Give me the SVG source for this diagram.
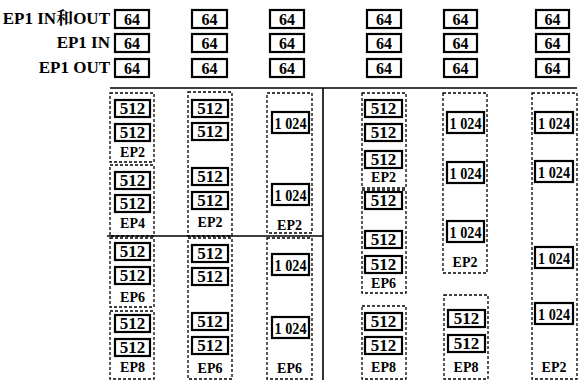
<svg xmlns="http://www.w3.org/2000/svg" width="583" height="380" viewBox="0 0 583 380">
<style>
.b{fill:#fff;stroke:#000;stroke-width:2.2}
.d{fill:none;stroke:#000;stroke-width:1.3;stroke-dasharray:3 2}
.l{stroke:#000;stroke-width:1.6;fill:none}
.n{font-size:17px;text-anchor:middle}
.s{font-size:16px;text-anchor:middle}
.k{font-size:17px;text-anchor:middle}
.e{font-size:14px;text-anchor:middle}
.h{font-size:17px;text-anchor:end}
</style>
<rect width="583" height="380" fill="#fff"/>
<g font-family="Liberation Serif, serif" font-weight="bold" fill="#000">
<g id="labels">
<text class="h" x="110" y="24" font-family="Liberation Serif, Noto Serif CJK SC, serif">EP1 IN和OUT</text>
<text class="h" x="110" y="48">EP1 IN</text>
<text class="h" x="110" y="73">EP1 OUT</text>
</g>
<g id="ep1-64">
<g id="r1c1"><rect class="b" x="115" y="10" width="34" height="18"/><text class="s" x="132" y="24.5">64</text></g>
<g id="r1c2"><rect class="b" x="192" y="10" width="35" height="18"/><text class="s" x="209.5" y="24.5">64</text></g>
<g id="r1c3"><rect class="b" x="270" y="10" width="34" height="18"/><text class="s" x="287" y="24.5">64</text></g>
<g id="r1c4"><rect class="b" x="367" y="10" width="34" height="18"/><text class="s" x="384" y="24.5">64</text></g>
<g id="r1c5"><rect class="b" x="444" y="10" width="33" height="18"/><text class="s" x="460.5" y="24.5">64</text></g>
<g id="r1c6"><rect class="b" x="536" y="10" width="33" height="18"/><text class="s" x="552.5" y="24.5">64</text></g>
<g id="r2c1"><rect class="b" x="115" y="34" width="34" height="18"/><text class="s" x="132" y="48.5">64</text></g>
<g id="r2c2"><rect class="b" x="192" y="34" width="35" height="18"/><text class="s" x="209.5" y="48.5">64</text></g>
<g id="r2c3"><rect class="b" x="270" y="34" width="34" height="18"/><text class="s" x="287" y="48.5">64</text></g>
<g id="r2c4"><rect class="b" x="367" y="34" width="34" height="18"/><text class="s" x="384" y="48.5">64</text></g>
<g id="r2c5"><rect class="b" x="444" y="34" width="33" height="18"/><text class="s" x="460.5" y="48.5">64</text></g>
<g id="r2c6"><rect class="b" x="536" y="34" width="33" height="18"/><text class="s" x="552.5" y="48.5">64</text></g>
<g id="r3c1"><rect class="b" x="115" y="59" width="34" height="18"/><text class="s" x="132" y="73.5">64</text></g>
<g id="r3c2"><rect class="b" x="192" y="59" width="35" height="18"/><text class="s" x="209.5" y="73.5">64</text></g>
<g id="r3c3"><rect class="b" x="270" y="59" width="34" height="18"/><text class="s" x="287" y="73.5">64</text></g>
<g id="r3c4"><rect class="b" x="367" y="59" width="34" height="18"/><text class="s" x="384" y="73.5">64</text></g>
<g id="r3c5"><rect class="b" x="444" y="59" width="33" height="18"/><text class="s" x="460.5" y="73.5">64</text></g>
<g id="r3c6"><rect class="b" x="536" y="59" width="33" height="18"/><text class="s" x="552.5" y="73.5">64</text></g>
</g>
<g id="connectors">
<line class="l" x1="110" y1="88" x2="577" y2="88"/>
<line class="l" x1="107" y1="236" x2="323" y2="236"/>
<line class="l" x1="323" y1="88" x2="323" y2="380"/>
</g>
<g id="A1"><rect class="d" x="110" y="93" width="44" height="69"/>
<rect class="b" x="115" y="100" width="35" height="17"/><text class="n" x="132.5" y="114">512</text>
<rect class="b" x="115" y="124" width="35" height="17"/><text class="n" x="132.5" y="138">512</text>
<text class="e" x="132.5" y="157">EP2</text></g>
<g id="A2"><rect class="d" x="110" y="165" width="44" height="71"/>
<rect class="b" x="115" y="172" width="35" height="17"/><text class="n" x="132.5" y="186">512</text>
<rect class="b" x="115" y="195" width="35" height="17"/><text class="n" x="132.5" y="209">512</text>
<text class="e" x="132.5" y="228">EP4</text></g>
<g id="A3"><rect class="d" x="110" y="238" width="44" height="69"/>
<rect class="b" x="115" y="243" width="35" height="17"/><text class="n" x="132.5" y="257">512</text>
<rect class="b" x="115" y="267" width="35" height="17"/><text class="n" x="132.5" y="281">512</text>
<text class="e" x="132.5" y="302">EP6</text></g>
<g id="A4"><rect class="d" x="110" y="311" width="44" height="68"/>
<rect class="b" x="115" y="315" width="35" height="17"/><text class="n" x="132.5" y="329">512</text>
<rect class="b" x="115" y="339" width="35" height="17"/><text class="n" x="132.5" y="353">512</text>
<text class="e" x="132.5" y="372">EP8</text></g>
<g id="B1"><rect class="d" x="188" y="92" width="44" height="144"/>
<rect class="b" x="192" y="100" width="36" height="17"/><text class="n" x="210" y="114">512</text>
<rect class="b" x="192" y="123" width="36" height="17"/><text class="n" x="210" y="137">512</text>
<rect class="b" x="192" y="168" width="36" height="17"/><text class="n" x="210" y="182">512</text>
<rect class="b" x="192" y="192" width="36" height="17"/><text class="n" x="210" y="206">512</text>
<text class="e" x="210" y="227">EP2</text></g>
<g id="B2"><rect class="d" x="188" y="238" width="44" height="141"/>
<rect class="b" x="192" y="245" width="36" height="17"/><text class="n" x="210" y="259">512</text>
<rect class="b" x="192" y="268" width="36" height="17"/><text class="n" x="210" y="282">512</text>
<rect class="b" x="192" y="313" width="36" height="17"/><text class="n" x="210" y="327">512</text>
<rect class="b" x="192" y="337" width="36" height="17"/><text class="n" x="210" y="351">512</text>
<text class="e" x="210" y="373">EP6</text></g>
<g id="C1"><rect class="d" x="267" y="93" width="45" height="140"/>
<rect class="b" x="272" y="112" width="37" height="21"/><text class="k" x="290.5" y="128.5" textLength="32" lengthAdjust="spacingAndGlyphs">1 024</text>
<rect class="b" x="272" y="184" width="37" height="21"/><text class="k" x="290.5" y="200.5" textLength="32" lengthAdjust="spacingAndGlyphs">1 024</text>
<text class="e" x="289.5" y="230">EP2</text></g>
<g id="C2"><rect class="d" x="267" y="238" width="45" height="141"/>
<rect class="b" x="272" y="254" width="37" height="21"/><text class="k" x="290.5" y="270.5" textLength="32" lengthAdjust="spacingAndGlyphs">1 024</text>
<rect class="b" x="272" y="317" width="37" height="21"/><text class="k" x="290.5" y="333.5" textLength="32" lengthAdjust="spacingAndGlyphs">1 024</text>
<text class="e" x="289.5" y="373">EP6</text></g>
<g id="D1"><rect class="d" x="362" y="93" width="44" height="95"/>
<rect class="b" x="365" y="100" width="37" height="17"/><text class="n" x="383.5" y="114">512</text>
<rect class="b" x="365" y="124" width="37" height="17"/><text class="n" x="383.5" y="138">512</text>
<rect class="b" x="365" y="151" width="37" height="17"/><text class="n" x="383.5" y="165">512</text>
<text class="e" x="383.5" y="182">EP2</text></g>
<g id="D2"><rect class="d" x="362" y="190" width="44" height="103"/>
<rect class="b" x="365" y="192" width="37" height="17"/><text class="n" x="383.5" y="206">512</text>
<rect class="b" x="365" y="231" width="37" height="17"/><text class="n" x="383.5" y="245">512</text>
<rect class="b" x="365" y="256" width="37" height="17"/><text class="n" x="383.5" y="270">512</text>
<text class="e" x="383.5" y="288">EP6</text></g>
<g id="D3"><rect class="d" x="362" y="306" width="44" height="73"/>
<rect class="b" x="365" y="313" width="37" height="17"/><text class="n" x="383.5" y="327">512</text>
<rect class="b" x="365" y="337" width="37" height="17"/><text class="n" x="383.5" y="351">512</text>
<text class="e" x="383.5" y="372">EP8</text></g>
<g id="E1"><rect class="d" x="443" y="93" width="44" height="180"/>
<rect class="b" x="447" y="112" width="37" height="21"/><text class="k" x="465.5" y="128.5" textLength="32" lengthAdjust="spacingAndGlyphs">1 024</text>
<rect class="b" x="447" y="162" width="37" height="21"/><text class="k" x="465.5" y="178.5" textLength="32" lengthAdjust="spacingAndGlyphs">1 024</text>
<rect class="b" x="447" y="221" width="37" height="21"/><text class="k" x="465.5" y="237.5" textLength="32" lengthAdjust="spacingAndGlyphs">1 024</text>
<text class="e" x="465" y="267">EP2</text></g>
<g id="E2"><rect class="d" x="444" y="295" width="44" height="84"/>
<rect class="b" x="448" y="310" width="37" height="17"/><text class="n" x="466.5" y="324">512</text>
<rect class="b" x="448" y="335" width="37" height="17"/><text class="n" x="466.5" y="349">512</text>
<text class="e" x="466" y="372">EP8</text></g>
<g id="F1"><rect class="d" x="532" y="93" width="45" height="286"/>
<rect class="b" x="535" y="112" width="38" height="21"/><text class="k" x="554" y="128.5" textLength="32" lengthAdjust="spacingAndGlyphs">1 024</text>
<rect class="b" x="535" y="161" width="38" height="21"/><text class="k" x="554" y="177.5" textLength="32" lengthAdjust="spacingAndGlyphs">1 024</text>
<rect class="b" x="535" y="247" width="38" height="21"/><text class="k" x="554" y="263.5" textLength="32" lengthAdjust="spacingAndGlyphs">1 024</text>
<rect class="b" x="535" y="303" width="38" height="21"/><text class="k" x="554" y="319.5" textLength="32" lengthAdjust="spacingAndGlyphs">1 024</text>
<text class="e" x="554" y="372">EP2</text></g>
</g>
</svg>
